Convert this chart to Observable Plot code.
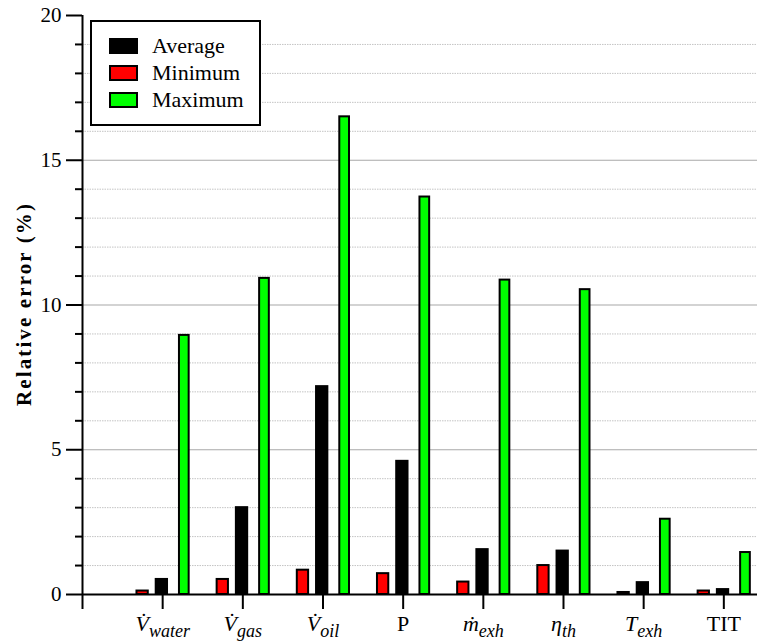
<!DOCTYPE html>
<html>
<head>
<meta charset="utf-8">
<script src="https://cdn.jsdelivr.net/npm/d3@7"></script>
<script src="https://cdn.jsdelivr.net/npm/@observablehq/plot@0.6"></script>
<style>
  html, body { margin: 0; padding: 0; background: #fff; }
  #chart svg { display: block; }
</style>
</head>
<body>
<div id="chart"></div>
<script>
// Measured quantities and their relative errors (%)
const categories = ["Vwater", "Vgas", "Voil", "P", "mexh", "eta_th", "Texh", "TIT"];
const tickBase   = ["V\u0307", "V\u0307", "V\u0307", "P", "m\u0307", "\u03b7", "T", "TIT"];
const tickSub    = ["water", "gas", "oil", "", "exh", "th", "exh", ""];
const tickItalic = [true, true, true, false, true, true, true, false];

const series       = ["Average", "Minimum", "Maximum"];
const seriesColors = ["#000000", "#ff0000", "#00ff00"];

const average = [0.52, 3.0, 7.18, 4.6, 1.55, 1.5, 0.41, 0.17];
const minimum = [0.12, 0.52, 0.84, 0.72, 0.43, 1.0, 0.07, 0.12];
const maximum = [8.95, 10.92, 16.5, 13.73, 10.86, 10.53, 2.6, 1.45];

const yMajor = [0, 5, 10, 15, 20];
const yMinor = [1, 2, 3, 4, 6, 7, 8, 9, 11, 12, 13, 14, 16, 17, 18, 19];
const yGridMajor = [5, 10, 15];
const xTicks = [0, 1, 2, 3, 4, 5, 6, 7, 8];

// bar placement within each group (x units)
const barOffset = {Average: -0.01, Minimum: -0.25, Maximum: 0.27};
const barWidth  = {Average: 0.141, Minimum: 0.141, Maximum: 0.121};

const valuesBySeries = {Average: average, Minimum: minimum, Maximum: maximum};
const rows = categories.flatMap((c, i) =>
  series.map(s => ({pos: i + 1, category: c, series: s, value: valuesBySeries[s][i]}))
);

const FONT = "Liberation Serif";

const chart = Plot.plot({
  width: 757,
  height: 644,
  marginLeft: 82,
  marginRight: 0,
  marginTop: 15,
  marginBottom: 50,
  style: {fontFamily: FONT, fontSize: "20px", color: "#000", background: "#fff"},
  x: {type: "linear", domain: [0, 8.42], axis: null},
  y: {domain: [0, 20], axis: null},
  color: {domain: series, range: seriesColors},
  marks: [
    Plot.ruleY(yMinor, {stroke: "#c4c4c4", strokeWidth: 1, strokeDasharray: "1.5,1"}),
    Plot.ruleY(yGridMajor, {stroke: "#a8a8a8", strokeWidth: 1.2}),
    Plot.rectY(rows, {
      x1: d => d.pos + barOffset[d.series] - barWidth[d.series] / 2,
      x2: d => d.pos + barOffset[d.series] + barWidth[d.series] / 2,
      y: "value",
      fill: "series",
      stroke: "#000",
      strokeWidth: 2
    }),
    Plot.ruleY([0], {stroke: "#000", strokeWidth: 2}),
    Plot.ruleX([0], {stroke: "#000", strokeWidth: 2}),
    Plot.axisY(yMinor, {tickSize: 7, strokeWidth: 2, tickFormat: () => "", label: null}),
    Plot.axisY(yMajor, {tickSize: 16, tickPadding: 5, strokeWidth: 2, label: null, fontSize: 21}),
    Plot.axisX(xTicks, {
      tickSize: 15, tickPadding: 6, strokeWidth: 2, label: null, fontSize: 22,
      tickFormat: i => (i === 0 ? "" : categories[i - 1])
    }),
    Plot.text(["Relative error (%)"], {
      text: d => d, frameAnchor: "left", textAnchor: "middle", dx: -58, rotate: -90,
      fontWeight: "bold", fontSize: 21, fill: "#000"
    })
  ]
});

const svg = d3.select(chart);

// stretch the axis title to its full length
svg.selectAll('g[aria-label="text"] text')
  .attr("textLength", 202)
  .attr("lengthAdjust", "spacing");

// Rebuild category tick labels with math-style subscripts
svg.selectAll('g[aria-label="x-axis tick label"] text').each(function () {
  const el = d3.select(this);
  const idx = categories.indexOf(el.text());
  if (idx < 0) return;
  el.text(null);
  el.append("tspan")
    .attr("font-style", tickItalic[idx] ? "italic" : "normal")
    .text(tickBase[idx]);
  if (tickSub[idx]) {
    el.append("tspan")
      .attr("font-style", "italic")
      .attr("font-size", "18px")
      .attr("dy", "0.3em")
      .text(tickSub[idx]);
  }
});

// Legend box in the upper left of the plot
const color = chart.scale("color");
const legend = svg.append("g");
legend.append("rect")
  .attr("x", 91).attr("y", 21).attr("width", 169).attr("height", 104)
  .attr("fill", "#fff").attr("stroke", "#000").attr("stroke-width", 2);
color.domain.forEach((name, k) => {
  const cy = 46 + k * 27;
  legend.append("rect")
    .attr("x", 110).attr("y", cy - 7).attr("width", 27).attr("height", 14)
    .attr("fill", color.range[k]).attr("stroke", "#000").attr("stroke-width", 2);
  legend.append("text")
    .attr("x", 152).attr("y", cy + 7)
    .attr("font-family", FONT)
    .attr("font-size", 22)
    .attr("text-anchor", "start")
    .attr("fill", "#000")
    .text(name);
});

document.getElementById("chart").appendChild(chart);
</script>
</body>
</html>
